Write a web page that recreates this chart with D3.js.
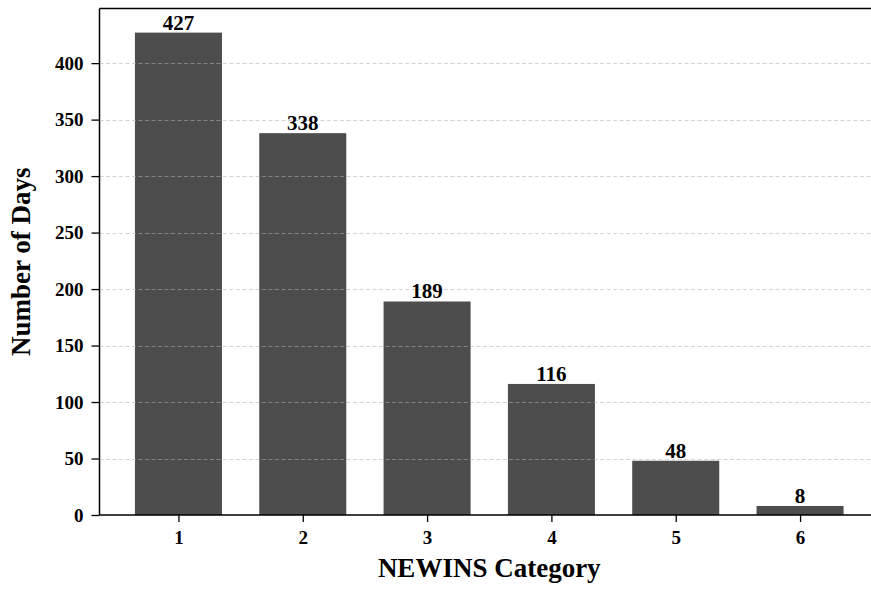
<!DOCTYPE html>
<html><head><meta charset="utf-8">
<script src="https://cdn.jsdelivr.net/npm/d3@7"></script>
<style>body{margin:0;background:#fff}svg{display:block}</style>
</head><body>
<script>
const categories = ["1","2","3","4","5","6"];
const values = [427, 338, 189, 116, 48, 8];
const yTicks = [0, 50, 100, 150, 200, 250, 300, 350, 400];

(function () {
const W = 871, H = 590;
const mLeft = 99.5, mRight = 879, mTop = 8.5, mBottom = 515;
const svg = d3.select("body").append("svg").attr("width", W).attr("height", H);
const font = "'Liberation Serif','Times New Roman',serif";

const x = d3.scaleLinear().domain([0.365, 6.635]).range([mLeft, mRight]);
const y = d3.scaleLinear().domain([0, 448.35]).range([mBottom, mTop]);
const bw = x(1.7) - x(1);

// bars
svg.append("g").selectAll("rect").data(values).join("rect")
  .attr("x", (d, i) => x(i + 1) - bw / 2)
  .attr("width", bw)
  .attr("y", d => y(d))
  .attr("height", d => y(0) - y(d))
  .attr("fill", "#4d4d4d");

// grid
svg.append("g").selectAll("line").data(yTicks.filter(t => t > 0)).join("line")
  .attr("x1", mLeft).attr("x2", mRight)
  .attr("y1", d => Math.round(y(d)) + 0.5).attr("y2", d => Math.round(y(d)) + 0.5)
  .attr("stroke", "#b0b0b0").attr("stroke-opacity", 0.7)
  .attr("stroke-dasharray", "4,2.5").attr("stroke-width", 0.8);

// value labels
svg.append("g").selectAll("text").data(values).join("text")
  .attr("x", (d, i) => x(i + 1))
  .attr("y", d => y(d) - 3)
  .attr("text-anchor", "middle")
  .attr("font-family", font).attr("font-weight", "bold").attr("font-size", 21)
  .attr("fill", "#000")
  .text(d => d);

// axes
const yAxis = svg.append("g").attr("transform", `translate(${mLeft},0)`)
  .call(d3.axisLeft(y).tickValues(yTicks).tickSize(8).tickPadding(8));
const xAxis = svg.append("g").attr("transform", `translate(0,${mBottom})`)
  .call(d3.axisBottom(x).tickValues(d3.range(1, 7)).tickFormat((d, i) => categories[i]).tickSize(7).tickPadding(9));
[yAxis, xAxis].forEach(a => {
  a.selectAll("path.domain").remove();
  a.selectAll("line").attr("stroke", "#000").attr("stroke-width", 1.3);
  a.selectAll("text").attr("font-family", font).attr("font-weight", "bold")
    .attr("font-size", 19).attr("fill", "#000");
});

// spines (left, bottom, top)
const sp = svg.append("g").attr("stroke", "#000").attr("stroke-width", 1.5).attr("fill", "none");
sp.append("line").attr("x1", mLeft).attr("x2", mLeft).attr("y1", mTop).attr("y2", mBottom);
sp.append("line").attr("x1", mLeft).attr("x2", mRight).attr("y1", mBottom).attr("y2", mBottom);
sp.append("line").attr("x1", mLeft).attr("x2", mRight).attr("y1", mTop).attr("y2", mTop);

// axis labels
svg.append("text").attr("x", (mLeft + mRight) / 2).attr("y", 577)
  .attr("text-anchor", "middle").attr("font-family", font).attr("font-weight", "bold")
  .attr("font-size", 27).text("NEWINS Category");
svg.append("text").attr("transform", `translate(30,${(mTop + mBottom) / 2}) rotate(-90)`)
  .attr("text-anchor", "middle").attr("font-family", font).attr("font-weight", "bold")
  .attr("font-size", 27).text("Number of Days");
})();
</script>
</body></html>
